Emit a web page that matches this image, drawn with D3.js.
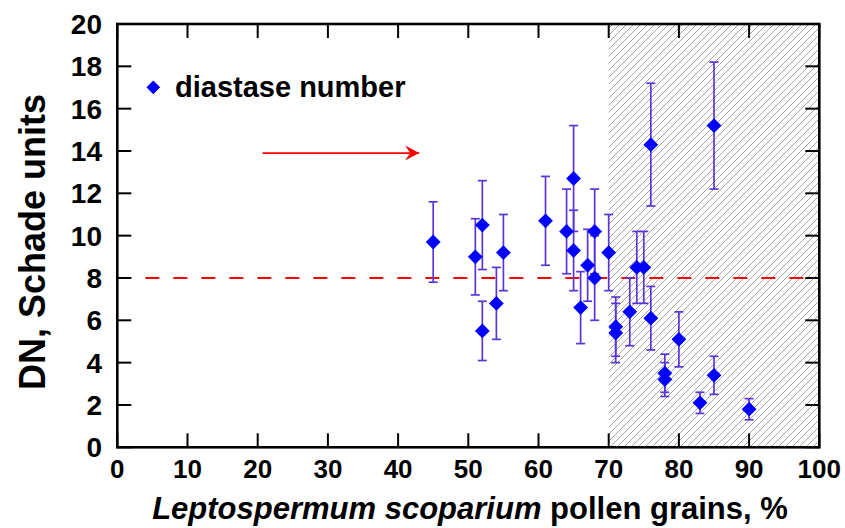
<!DOCTYPE html>
<html>
<head>
<meta charset="utf-8">
<script src="https://cdn.jsdelivr.net/npm/d3@7"></script>
<style>
  html, body { margin: 0; padding: 0; background: #fff; }
  svg { display: block; font-family: "Liberation Sans", Arial, sans-serif; }
</style>
</head>
<body>
<svg id="chart" width="845" height="528"></svg>
<script>
// ---- data ----
const pollen   = [45, 51, 52, 52, 54, 55, 61, 64, 65, 65, 66, 67, 68, 68, 70, 71, 71, 73, 74, 75, 76, 76, 78, 78, 80, 83, 85, 85, 90];
const dn       = [9.7, 9.0, 10.5, 5.5, 6.8, 9.2, 10.7, 10.2, 12.7, 9.3, 6.6, 8.6, 10.2, 8.0, 9.2, 5.7, 5.4, 6.4, 8.5, 8.5, 14.3, 6.1, 3.5, 3.2, 5.1, 2.1, 15.2, 3.4, 1.8];
const dnLow    = [7.8, 7.2, 8.4, 4.1, 5.1, 7.4, 8.6, 8.2, 10.2, 7.4, 4.9, 6.9, 8.2, 6.0, 7.4, 4.3, 4.0, 4.8, 6.8, 6.8, 11.4, 4.6, 2.6, 2.4, 3.8, 1.6, 12.2, 2.5, 1.3];
const dnHigh   = [11.6, 10.8, 12.6, 6.9, 8.5, 11.0, 12.8, 12.2, 15.2, 11.2, 8.3, 10.3, 12.2, 10.0, 11.0, 7.1, 6.8, 8.0, 10.2, 10.2, 17.2, 7.6, 4.4, 4.0, 6.4, 2.6, 18.2, 4.3, 2.3];
const xTicks   = [0, 10, 20, 30, 40, 50, 60, 70, 80, 90, 100];
const yTicks   = [0, 2, 4, 6, 8, 10, 12, 14, 16, 18, 20];
const refLevel = [8];            // dashed reference line (DN = 8)
const shadeFrom = [70, 100];     // hatched region on x
const arrowX   = [20.7, 43];     // annotation arrow
const arrowY   = [13.9];
const legendLabel = ["diastase number"];

// ---- layout ----
const W = 845, H = 528;
const m = { left: 117.3, right: 25.7, top: 24, bottom: 80.7 };
const svg = d3.select("#chart");
const x = d3.scaleLinear().domain([0, 100]).range([m.left, W - m.right]);
const y = d3.scaleLinear().domain([0, 20]).range([H - m.bottom, m.top]);

// hatch pattern
const defs = svg.append("defs");
const hs = 7;
const pat = defs.append("pattern")
  .attr("id", "hatch").attr("patternUnits", "userSpaceOnUse")
  .attr("width", hs).attr("height", hs);
pat.append("path")
  .attr("d", `M-2,2 L2,-2 M0,${hs} L${hs},0 M${hs - 2},${hs + 2} L${hs + 2},${hs - 2}`)
  .attr("stroke", "#a6a6a6").attr("stroke-width", 1);

svg.append("rect")
  .attr("x", x(shadeFrom[0])).attr("y", y(20))
  .attr("width", x(shadeFrom[1]) - x(shadeFrom[0]))
  .attr("height", y(0) - y(20))
  .attr("fill", "url(#hatch)");

// dashed reference line
svg.append("line")
  .attr("x1", x(0)).attr("x2", x(100))
  .attr("y1", y(refLevel[0])).attr("y2", y(refLevel[0]))
  .attr("stroke", "#ff0000").attr("stroke-width", 1.8)
  .attr("stroke-dasharray", "14,14");

// arrow
defs.append("marker")
  .attr("id", "arrowhead").attr("markerUnits", "userSpaceOnUse")
  .attr("viewBox", "0 0 16 16").attr("refX", 15).attr("refY", 8)
  .attr("markerWidth", 16).attr("markerHeight", 16).attr("orient", "auto")
  .append("path").attr("d", "M1,0.5 L15,8 L1,15.5 L6,8 Z").attr("fill", "#ff0000");
svg.append("line")
  .attr("x1", x(arrowX[0])).attr("x2", x(arrowX[1]))
  .attr("y1", y(arrowY[0])).attr("y2", y(arrowY[0]))
  .attr("stroke", "#ff0000").attr("stroke-width", 1.6)
  .attr("marker-end", "url(#arrowhead)");

// error bars
const pts = pollen.map((p, i) => ({ x: p, y: dn[i], lo: dnLow[i], hi: dnHigh[i] }));
const eb = svg.append("g").attr("stroke", "#5a35d8").attr("stroke-width", 1.7).attr("fill", "none");
const cap = 4.5;
pts.forEach(d => {
  eb.append("line").attr("x1", x(d.x)).attr("x2", x(d.x)).attr("y1", y(d.lo)).attr("y2", y(d.hi));
  eb.append("line").attr("x1", x(d.x) - cap).attr("x2", x(d.x) + cap).attr("y1", y(d.lo)).attr("y2", y(d.lo));
  eb.append("line").attr("x1", x(d.x) - cap).attr("x2", x(d.x) + cap).attr("y1", y(d.hi)).attr("y2", y(d.hi));
});

// markers
const diamond = d3.symbol().type(d3.symbolDiamond2).size(140);
svg.append("g").selectAll("path").data(pts).join("path")
  .attr("d", diamond)
  .attr("transform", d => `translate(${x(d.x)},${y(d.y)})`)
  .attr("fill", "#0000ff");

// frame and ticks
const frame = svg.append("g").attr("stroke", "#000");
const tickLen = 14;
xTicks.forEach(t => {
  frame.append("line").attr("x1", x(t)).attr("x2", x(t)).attr("y1", y(0)).attr("y2", y(0) - tickLen).attr("stroke-width", 2);
  frame.append("line").attr("x1", x(t)).attr("x2", x(t)).attr("y1", y(20)).attr("y2", y(20) + tickLen).attr("stroke-width", 2);
});
yTicks.forEach(t => {
  frame.append("line").attr("x1", x(0)).attr("x2", x(0) + tickLen).attr("y1", y(t)).attr("y2", y(t)).attr("stroke-width", 2);
  frame.append("line").attr("x1", x(100)).attr("x2", x(100) - tickLen).attr("y1", y(t)).attr("y2", y(t)).attr("stroke-width", 2);
});
frame.append("rect")
  .attr("x", x(0)).attr("y", y(20))
  .attr("width", x(100) - x(0)).attr("height", y(0) - y(20))
  .attr("fill", "none").attr("stroke-width", 2.6);

// tick labels
svg.append("g").selectAll("text").data(xTicks).join("text")
  .attr("x", d => x(d)).attr("y", 478)
  .attr("text-anchor", "middle")
  .attr("font-size", 26).attr("font-weight", "bold")
  .text(d => d);
svg.append("g").selectAll("text").data(yTicks).join("text")
  .attr("x", 102).attr("y", d => y(d))
  .attr("dy", "0.36em")
  .attr("text-anchor", "end")
  .attr("font-size", 28).attr("font-weight", "bold")
  .text(d => d);

// axis titles
const xt = svg.append("text")
  .attr("x", 470).attr("y", 519)
  .attr("text-anchor", "middle")
  .attr("font-size", 31).attr("font-weight", "bold");
xt.append("tspan").attr("font-style", "italic").text("Leptospermum scoparium");
xt.append("tspan").text(" pollen grains, %");

svg.append("text")
  .attr("transform", "translate(45,242) rotate(-90)")
  .attr("text-anchor", "middle")
  .attr("font-size", 36).attr("font-weight", "bold")
  .text("DN, Schade units");

// legend
svg.append("path")
  .attr("d", d3.symbol().type(d3.symbolDiamond2).size(120)())
  .attr("transform", "translate(153.3,87.3)")
  .attr("fill", "#0000ff");
svg.append("text")
  .attr("x", 175).attr("y", 97)
  .attr("font-size", 29).attr("font-weight", "bold")
  .text(legendLabel[0]);
</script>
</body>
</html>
